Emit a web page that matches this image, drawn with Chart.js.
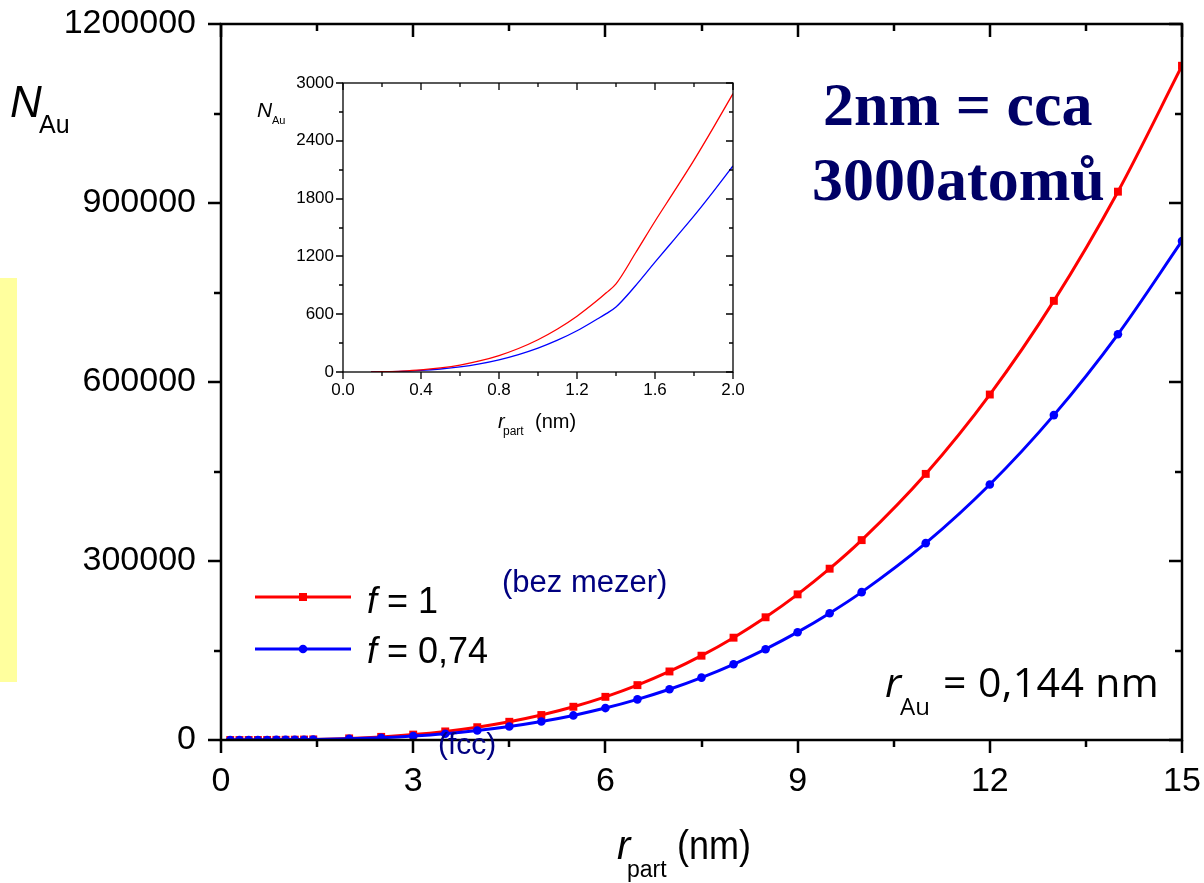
<!DOCTYPE html>
<html>
<head>
<meta charset="utf-8">
<script src="https://cdn.jsdelivr.net/npm/chart.js@4.4.1/dist/chart.umd.min.js"></script>
<style>
  html, body { margin: 0; padding: 0; background: #fff; }
  #wrap { position: relative; width: 1204px; height: 883px; overflow: hidden; font-family: "Liberation Sans", Arial, sans-serif; }
  canvas { position: absolute; }
  .t { position: absolute; white-space: nowrap; line-height: 1; color: #000; }
</style>
</head>
<body>
<div id="wrap">
  <div style="position:absolute; left:0; top:278px; width:17px; height:404px; background:#ffff9e;"></div>
  <canvas id="main" width="1204" height="883" style="left:0; top:0; width:1204px; height:883px;"></canvas>
  <canvas id="inset" width="510" height="370" style="left:240px; top:70px; width:510px; height:370px;"></canvas>
</div>
<script>
// ---------------------------------------------------------------
// data
// ---------------------------------------------------------------
const rPart = [0.144, 0.288, 0.432, 0.576, 0.72, 0.864, 1.008, 1.152, 1.296, 1.44,
  2, 2.5, 3, 3.5, 4, 4.5, 5, 5.5, 6, 6.5, 7, 7.5, 8, 8.5, 9, 9.5, 10, 11, 12, 13, 14, 15];
const nFull = [1, 8, 27, 64, 125, 216, 343, 512, 729, 1000,
  2680, 5230, 9040, 14360, 21430, 30520, 41860, 55720, 72340, 91970, 114870, 141290,
  171470, 205670, 244100, 287100, 335000, 446000, 579000, 736000, 919000, 1130000];
const nFcc = [1, 6, 20, 47, 93, 160, 254, 379, 539, 740,
  1980, 3870, 6690, 10600, 15900, 22600, 31000, 41200, 53500, 68100, 85000, 104600,
  126900, 152200, 180700, 212500, 247800, 329900, 428200, 544500, 680000, 836400];

const rInset = [0.144, 0.2, 0.3, 0.4, 0.5, 0.6, 0.7, 0.8, 0.9, 1.0, 1.1, 1.2, 1.3, 1.35,
  1.4, 1.5, 1.6, 1.7, 1.8, 1.9, 2.0];
const nInsetFull = [1, 3, 9, 21, 42, 72, 115, 171, 244, 335, 446, 579, 736, 822,
  915, 1235, 1565, 1880, 2200, 2540, 2890];
const nInsetFcc = [1, 2, 7, 16, 31, 53, 85, 127, 181, 248, 330, 428, 545, 606,
  675, 895, 1140, 1380, 1620, 1875, 2140];

const mainXTicks = { major: 3, minor: 1.5 };
const mainYTicks = { major: 300000, minor: 150000 };
const insetXTicks = { major: 0.4, minor: 0.2 };
const insetYTicks = { major: 600, minor: 300 };

const SANS = '"Liberation Sans", Arial, sans-serif';

// ---------------------------------------------------------------
// helpers
// ---------------------------------------------------------------
function pts(xs, ys) {
  return xs.map((x, i) => ({ x, y: ys[i] }));
}

function isMajor(v, step) {
  const q = v / step;
  return Math.abs(q - Math.round(q)) < 1e-6;
}

// frame on all four sides: ticks outward on left/bottom, inward on top/right
const framePlugin = {
  id: 'frame',
  afterDatasetsDraw(chart, args, o) {
    const { ctx, chartArea: a, scales: { x, y } } = chart;
    ctx.save();
    ctx.strokeStyle = '#000';
    ctx.lineWidth = o.lw;
    ctx.lineCap = 'butt';
    ctx.strokeRect(a.left, a.top, a.right - a.left, a.bottom - a.top);

    ctx.beginPath();
    for (let v = x.min; v <= x.max + 1e-9; v += o.xt.minor) {
      const L = isMajor(v, o.xt.major) ? o.major : o.minor;
      const px = Math.round(x.getPixelForValue(v));
      ctx.moveTo(px, a.bottom); ctx.lineTo(px, a.bottom + L);
      ctx.moveTo(px, a.top); ctx.lineTo(px, a.top + L);
    }
    for (let v = y.min; v <= y.max + 1e-9; v += o.yt.minor) {
      const L = isMajor(v, o.yt.major) ? o.major : o.minor;
      const py = Math.round(y.getPixelForValue(v));
      ctx.moveTo(a.left, py); ctx.lineTo(a.left - L, py);
      ctx.moveTo(a.right, py); ctx.lineTo(a.right - L, py);
    }
    ctx.stroke();

    // legend samples (main chart only)
    if (o.legend) {
      o.legend.forEach(it => {
        ctx.strokeStyle = it.color;
        ctx.fillStyle = it.color;
        ctx.lineWidth = 3;
        ctx.beginPath();
        ctx.moveTo(it.x0, it.y); ctx.lineTo(it.x1, it.y);
        ctx.stroke();
        const cx = (it.x0 + it.x1) / 2;
        ctx.beginPath();
        if (it.style === 'rect') ctx.rect(cx - 4, it.y - 4, 8, 8);
        else ctx.arc(cx, it.y, 4.3, 0, Math.PI * 2);
        ctx.fill();
      });
    }
    ctx.restore();
  }
};

// label offset goes into tickLength (ticks are drawn by the plugin),
// so ticks.padding stays 0 and does not push the chart area around
function axis(min, max, step, size, offset, fmt, fitKey, fitVal) {
  return {
    type: 'linear', min, max,
    ticks: { stepSize: step, color: '#000', padding: 0, font: { family: SANS, size }, callback: fmt },
    grid: { display: false, drawTicks: true, tickLength: offset },
    border: { display: false },
    afterFit(s) { s[fitKey] = fitVal; }
  };
}

// text placed by baseline
const BASE = { sans: 0.8465, serif: 0.8375, open: 0.888 };
function txt(x, base, size, fam, html, style) {
  const d = document.createElement('div');
  d.className = 't';
  const family = fam === 'serif' ? '"Liberation Serif", "Times New Roman", serif'
    : fam === 'open' ? '"Open Sans", sans-serif' : SANS;
  d.style.cssText = `left:${x}px; top:${(base - BASE[fam] * size).toFixed(1)}px; font-size:${size}px; font-family:${family}; ${style || ''}`;
  d.innerHTML = html;
  document.getElementById('wrap').appendChild(d);
}

// ---------------------------------------------------------------
// main chart
// ---------------------------------------------------------------
new Chart(document.getElementById('main'), {
  type: 'line',
  data: {
    datasets: [
      {
        data: pts(rPart, nFull), borderColor: '#ff0000', backgroundColor: '#ff0000',
        borderWidth: 3, pointStyle: 'rect', pointRadius: 5.6, pointBorderWidth: 0,
        cubicInterpolationMode: 'monotone', order: 2
      },
      {
        data: pts(rPart, nFcc), borderColor: '#0000ff', backgroundColor: '#0000ff',
        borderWidth: 3, pointStyle: 'circle', pointRadius: 4.3, pointBorderWidth: 0,
        cubicInterpolationMode: 'monotone', order: 1
      }
    ]
  },
  options: {
    responsive: false, animation: false, events: [],
    layout: { padding: { top: 24, right: 22, left: 0, bottom: 0 } },
    plugins: {
      legend: { display: false }, tooltip: { enabled: false },
      frame: {
        lw: 2.5, major: 13, minor: 7, xt: mainXTicks, yt: mainYTicks,
        legend: [
          { x0: 255, x1: 351, y: 597, color: '#ff0000', style: 'rect' },
          { x0: 255, x1: 351, y: 649, color: '#0000ff', style: 'circle' }
        ]
      }
    },
    scales: {
      x: axis(0, 15, mainXTicks.major, 34, 21, v => String(v), 'height', 143),
      y: axis(0, 1200000, mainYTicks.major, 34, 25, v => String(v), 'width', 221)
    }
  },
  plugins: [framePlugin]
});

// ---------------------------------------------------------------
// inset
// ---------------------------------------------------------------
new Chart(document.getElementById('inset'), {
  type: 'line',
  data: {
    datasets: [
      {
        data: pts(rInset, nInsetFull), borderColor: '#ff0000', borderWidth: 1.3,
        pointRadius: 0, cubicInterpolationMode: 'monotone'
      },
      {
        data: pts(rInset, nInsetFcc), borderColor: '#0000ff', borderWidth: 1.3,
        pointRadius: 0, cubicInterpolationMode: 'monotone'
      }
    ]
  },
  options: {
    responsive: false, animation: false, events: [],
    layout: { padding: { top: 13, right: 17, left: 0, bottom: 0 } },
    plugins: {
      legend: { display: false }, tooltip: { enabled: false },
      frame: { lw: 1.3, major: 7, minor: 4, xt: insetXTicks, yt: insetYTicks }
    },
    scales: {
      x: axis(0, 2, insetXTicks.major, 17, 8, v => v.toFixed(1), 'height', 68),
      y: axis(0, 3000, insetYTicks.major, 17, 9, v => String(v), 'width', 103)
    }
  },
  plugins: [framePlugin]
});

// ---------------------------------------------------------------
// texts
// ---------------------------------------------------------------
txt(10, 117, 44, 'sans', '<i>N</i>');
txt(39, 133, 25, 'sans', 'Au');
txt(617, 859, 40, 'sans', '<i>r</i>');
txt(627, 877, 23, 'sans', 'part');
txt(677, 859, 36, 'sans', '(nm)', 'transform:scaleY(1.15); transform-origin:0 85%;');

txt(367, 613, 36, 'sans', '<i>f</i> = 1');
txt(367, 663, 36, 'sans', '<i>f</i> = 0,74');
txt(502, 592, 31, 'sans', '(bez mezer)', 'color:#000080;');
txt(438, 754, 30, 'sans', '(fcc)', 'color:#000080;');

txt(885, 697, 41, 'open', '<i>r</i>');
txt(900, 715, 24, 'open', 'Au');
txt(943, 697, 41, 'open', '= 0,144 nm', 'letter-spacing:0.4px;');

txt(823, 125, 62, 'serif', '2nm = cca', 'font-weight:bold; color:#000066;');
txt(812, 200, 62, 'serif', '3000atomů', 'font-weight:bold; color:#000066;');

txt(257, 117, 21, 'sans', '<i>N</i>');
txt(272, 124, 11, 'sans', 'Au');
txt(498, 428, 20, 'sans', '<i>r</i>');
txt(503, 435, 12, 'sans', 'part');
txt(535, 428, 20, 'sans', '(nm)');
</script>
</body>
</html>
